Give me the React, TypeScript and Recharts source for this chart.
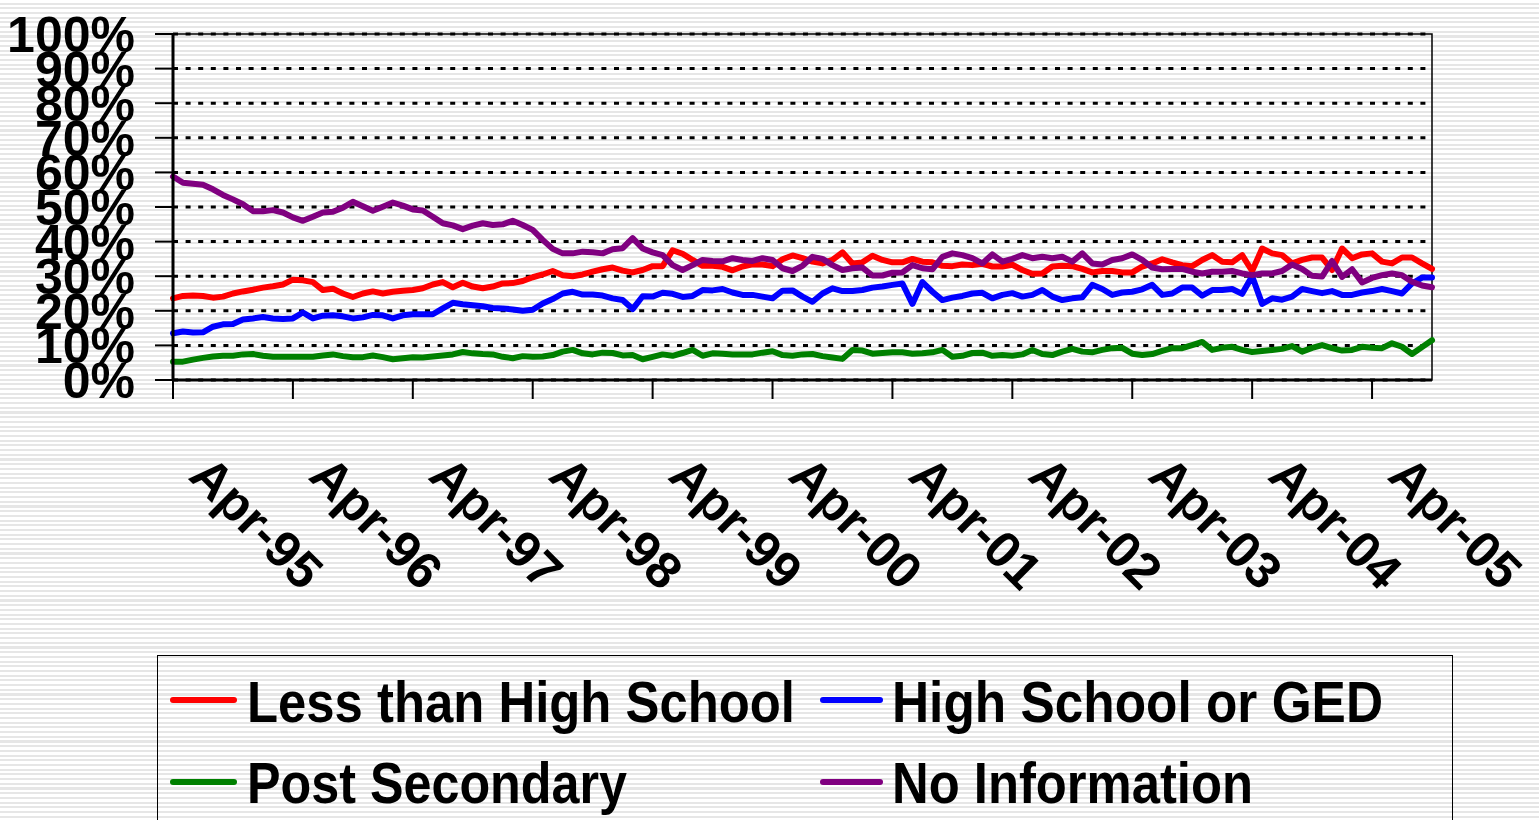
import React from 'react';
import { LineChart, Line, XAxis, YAxis, CartesianGrid, Legend, ReferenceArea } from 'recharts';

const MONTH_NAMES = ['Jan', 'Feb', 'Mar', 'Apr', 'May', 'Jun', 'Jul', 'Aug', 'Sep', 'Oct', 'Nov', 'Dec'];

// monthly categories Apr-95 .. Oct-05 (127 months)
const categories: string[] = Array.from({ length: 127 }, (_, i) => {
  const m = (3 + i) % 12;
  const y = (95 + Math.floor((3 + i) / 12)) % 100;
  return `${MONTH_NAMES[m]}-${String(y).padStart(2, '0')}`;
});

const xTickLabels = ['Apr-95', 'Apr-96', 'Apr-97', 'Apr-98', 'Apr-99', 'Apr-00', 'Apr-01', 'Apr-02', 'Apr-03', 'Apr-04', 'Apr-05'];
const yTicks = [0, 10, 20, 30, 40, 50, 60, 70, 80, 90, 100];

const lessThanHighSchool = [
  23.6, 24.3, 24.4, 24.3, 23.8, 24.1, 25.0, 25.6, 26.1, 26.7, 27.1, 27.6, 29.0, 28.8, 28.3, 26.0, 26.4, 25.0, 24.0, 25.0,
  25.6, 25.0, 25.5, 25.8, 26.0, 26.5, 27.6, 28.3, 26.8, 28.1, 27.0, 26.5, 27.0, 27.9, 28.0, 28.6, 29.7, 30.5, 31.5, 30.3,
  30.0, 30.5, 31.3, 32.0, 32.5, 31.6, 31.1, 31.8, 32.9, 32.9, 37.5, 36.5, 34.7, 33.0, 33.0, 32.7, 31.7, 32.8, 33.4, 33.4,
  32.9, 34.9, 36.0, 35.2, 34.2, 33.7, 34.7, 36.9, 33.7, 34.0, 35.9, 34.7, 34.0, 34.0, 35.0, 34.2, 34.0, 33.0, 32.9, 33.4,
  33.2, 33.6, 32.8, 32.8, 33.3, 31.8, 30.7, 30.8, 32.8, 33.0, 32.9, 32.1, 31.1, 31.5, 31.5, 31.1, 31.1, 32.8, 33.7, 34.9,
  34.0, 33.2, 32.9, 34.7, 36.1, 34.2, 34.0, 36.1, 31.5, 38.0, 36.6, 36.1, 33.7, 34.7, 35.4, 35.4, 31.8, 38.0, 35.2, 36.3,
  36.6, 34.2, 33.7, 35.4, 35.4, 33.7, 32.1,
];

const highSchoolOrGED = [
  13.5, 14.0, 13.7, 13.8, 15.4, 16.1, 16.2, 17.5, 17.8, 18.2, 17.8, 17.6, 17.8, 19.5, 17.8, 18.6, 18.7, 18.4, 17.8, 18.1,
  18.8, 18.7, 17.8, 18.7, 19.0, 19.0, 19.0, 20.7, 22.3, 21.9, 21.6, 21.3, 20.8, 20.7, 20.4, 20.0, 20.3, 22.1, 23.4, 25.0,
  25.5, 24.7, 24.7, 24.4, 23.6, 23.1, 20.5, 24.2, 24.1, 25.2, 24.9, 24.0, 24.3, 26.0, 25.9, 26.3, 25.3, 24.6, 24.6, 24.1,
  23.6, 25.8, 25.9, 24.1, 22.6, 25.0, 26.5, 25.7, 25.7, 26.0, 26.7, 27.0, 27.5, 27.9, 22.0, 28.3, 25.5, 23.1, 23.8, 24.3,
  25.0, 25.2, 23.6, 24.6, 25.1, 24.1, 24.6, 26.0, 24.1, 23.1, 23.6, 23.9, 27.5, 26.3, 24.6, 25.3, 25.5, 26.2, 27.5, 24.6,
  25.0, 26.7, 26.7, 24.4, 26.0, 26.0, 26.3, 24.9, 30.0, 22.0, 23.6, 23.2, 24.1, 26.3, 25.7, 25.1, 25.7, 24.6, 24.6, 25.3,
  25.7, 26.3, 25.7, 25.0, 27.9, 29.6, 29.6,
];

const postSecondary = [
  5.3, 5.3, 5.9, 6.4, 6.8, 7.0, 7.0, 7.4, 7.5, 7.0, 6.7, 6.7, 6.7, 6.7, 6.7, 7.1, 7.4, 6.9, 6.6, 6.6,
  7.1, 6.6, 6.0, 6.3, 6.6, 6.5, 6.8, 7.1, 7.4, 8.1, 7.7, 7.5, 7.4, 6.7, 6.3, 6.9, 6.7, 6.8, 7.2, 8.2,
  8.7, 7.7, 7.4, 7.9, 7.8, 7.1, 7.2, 6.0, 6.7, 7.4, 7.0, 7.8, 8.7, 7.0, 7.7, 7.6, 7.4, 7.4, 7.4, 7.9,
  8.3, 7.2, 7.0, 7.4, 7.5, 6.9, 6.5, 6.1, 8.7, 8.5, 7.6, 7.8, 8.0, 8.0, 7.6, 7.7, 8.0, 8.7, 6.7, 7.0,
  7.8, 7.9, 7.0, 7.2, 7.0, 7.4, 8.7, 7.5, 7.2, 8.2, 9.0, 8.2, 8.0, 8.7, 9.2, 9.3, 7.6, 7.2, 7.5, 8.4,
  9.2, 9.2, 10.1, 11.0, 8.7, 9.3, 9.6, 8.7, 8.1, 8.4, 8.7, 9.0, 9.8, 8.2, 9.3, 10.1, 9.2, 8.5, 8.7, 9.6,
  9.3, 9.2, 10.6, 9.6, 7.5, 9.5, 11.5,
];

const noInformation = [
  58.8, 57.0, 56.7, 56.4, 55.1, 53.5, 52.2, 50.8, 48.8, 48.8, 49.1, 48.4, 47.0, 46.0, 47.2, 48.4, 48.6, 49.8, 51.5, 50.2,
  48.9, 50.1, 51.3, 50.4, 49.3, 49.0, 47.2, 45.3, 44.7, 43.6, 44.6, 45.3, 44.8, 45.0, 46.0, 44.8, 43.4, 40.5, 37.9, 36.6,
  36.6, 37.1, 36.9, 36.6, 37.8, 38.1, 41.0, 38.0, 36.9, 36.1, 33.2, 31.8, 33.2, 34.7, 34.4, 34.3, 35.2, 34.7, 34.4, 35.2,
  34.7, 32.3, 31.5, 33.0, 35.6, 35.0, 33.2, 31.8, 32.3, 32.5, 30.2, 30.2, 31.0, 31.1, 33.2, 32.3, 32.0, 35.6, 36.6, 36.1,
  35.2, 33.7, 36.3, 34.2, 35.0, 36.1, 35.2, 35.6, 35.2, 35.6, 34.2, 36.6, 33.7, 33.4, 34.7, 35.2, 36.3, 34.7, 32.5, 32.0,
  32.1, 32.1, 31.3, 30.8, 31.3, 31.3, 31.5, 30.8, 30.3, 30.8, 30.8, 31.5, 33.4, 32.1, 30.1, 29.9, 34.4, 29.8, 32.0, 28.2,
  29.5, 30.3, 30.8, 30.3, 28.4, 27.3, 26.8,
];

const seriesNames = ['Less than High School', 'High School or GED', 'Post Secondary', 'No Information'];
const seriesKeys = ['lths', 'hs', 'post', 'noinfo'];
const seriesColors = ['#FF0000', '#0000FF', '#008000', '#800080'];

const data = categories.map((month, i) => ({
  month,
  lths: lessThanHighSchool[i],
  hs: highSchoolOrGED[i],
  post: postSecondary[i],
  noinfo: noInformation[i],
}));

const FONT = '"Liberation Sans", Arial, Helvetica, sans-serif';

const YTick = (props: any) => {
  const { x, y, payload } = props;
  return (
    <text x={x} y={y} dy={18} textAnchor="end" fontFamily={FONT} fontWeight="bold" fontSize={50} fill="#000">
      {`${payload.value}%`}
    </text>
  );
};

const XTick = (props: any) => {
  const { x, y, payload } = props;
  return (
    <text
      x={0}
      y={0}
      transform={`translate(${x + 14},${y + 79}) rotate(45)`}
      textAnchor="start"
      fontFamily={FONT}
      fontWeight="bold"
      fontSize={51}
      fill="#000"
    >
      {payload.value}
    </text>
  );
};

const legendTextLengths = [548, 491, 380, 361];

const renderLegend = () => {
  const W = 1296;
  const H = 200;
  return (
    <div style={{ width: W, height: H, border: '1.5px solid #000', boxSizing: 'border-box', position: 'relative' }}>
      <svg width={W} height={H} style={{ position: 'absolute', left: -1, top: -1 }}>
        {seriesNames.map((name, i) => {
          const col = i % 2;
          const row = Math.floor(i / 2);
          const lx1 = col === 0 ? 16 : 666;
          const lx2 = col === 0 ? 77 : 723;
          const ly = row === 0 ? 45 : 127;
          const tx = col === 0 ? 90 : 735;
          const ty = row === 0 ? 67 : 148;
          return (
            <g key={name}>
              <line x1={lx1} x2={lx2} y1={ly} y2={ly} stroke={seriesColors[i]} strokeWidth={6} strokeLinecap="round" />
              <text
                x={tx}
                y={ty}
                fontFamily={FONT}
                fontWeight="bold"
                fontSize={57}
                fill="#000"
                textLength={legendTextLengths[i]}
                lengthAdjust="spacingAndGlyphs"
              >
                {name}
              </text>
            </g>
          );
        })}
      </svg>
    </div>
  );
};

export default function App() {
  return (
    <div
      style={{
        position: 'fixed',
        left: 0,
        top: 0,
        width: 1539,
        height: 820,
        overflow: 'hidden',
        background:
          'repeating-linear-gradient(to bottom, #ffffff 0px, #ffffff 2.6px, #e6e6e6 2.6px, #e6e6e6 4.7px)',
      }}
    >
      <LineChart width={1539} height={820} data={data} margin={{ top: 34, right: 107, bottom: 0, left: 0 }}>
        <CartesianGrid vertical={false} stroke="#000" strokeWidth={3} strokeDasharray="5 7.6" />
        <ReferenceArea
          x1={categories[0]}
          x2={categories[categories.length - 1]}
          y1={0}
          y2={100}
          fill="none"
          fillOpacity={0}
          stroke="#000"
          strokeWidth={1.5}
        />
        <XAxis
          dataKey="month"
          type="category"
          ticks={xTickLabels}
          interval={0}
          height={440}
          tickSize={19}
          tickMargin={0}
          axisLine={{ stroke: '#000', strokeWidth: 3 }}
          tickLine={{ stroke: '#000', strokeWidth: 2 }}
          tick={<XTick />}
        />
        <YAxis
          type="number"
          domain={[0, 100]}
          ticks={yTicks}
          interval={0}
          width={173}
          tickSize={18}
          tickMargin={20}
          axisLine={{ stroke: '#000', strokeWidth: 3 }}
          tickLine={{ stroke: '#000', strokeWidth: 2 }}
          tick={<YTick />}
        />
        {seriesKeys.map((k, i) => (
          <Line
            key={k}
            type="linear"
            dataKey={k}
            name={seriesNames[i]}
            stroke={seriesColors[i]}
            strokeWidth={6}
            strokeLinejoin="round"
            strokeLinecap="round"
            dot={false}
            activeDot={false}
            isAnimationActive={false}
          />
        ))}
        <Legend
          content={renderLegend}
          layout="horizontal"
          verticalAlign="middle"
          align="center"
          wrapperStyle={{ position: 'absolute', left: 157, top: 655, width: 1296, height: 200 }}
        />
      </LineChart>
    </div>
  );
}
